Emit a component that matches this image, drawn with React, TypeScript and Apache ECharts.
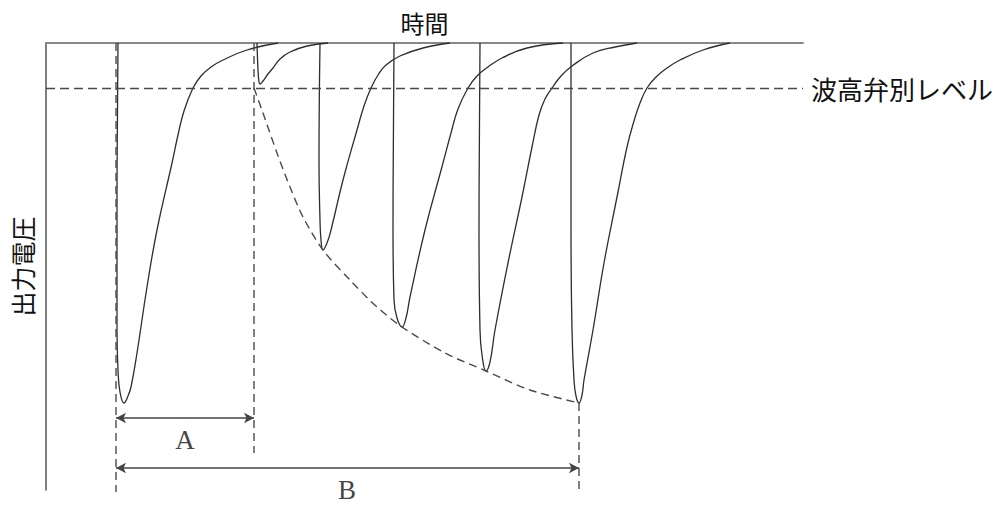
import React, { useEffect, useRef } from 'react';
import * as echarts from 'echarts';

// time (x) and output voltage (y, negative = downward pulse)
const pulse1: [number, number][] = [
  [72, 0], [71, -157], [71, -287], [72, -327], [74, -349], [78, -360], [82, -353], [85, -344],
  [91, -310], [101, -244], [111, -187], [126, -120], [132, -92], [138, -68], [147, -45],
  [155, -33], [165, -24], [177, -17], [201, -7], [232, 0],
];
const pulse2: [number, number][] = [
  [211, 0], [212, -27], [213, -39], [214, -41], [217, -38], [222, -31], [227, -25], [234, -16],
  [244, -9], [261, -3], [282, 0],
];
const pulse3: [number, number][] = [
  [274, 0], [273, -120], [274, -177], [275, -197], [277, -207], [281, -200], [285, -187],
  [297, -137], [311, -87], [318, -63], [325, -45], [332, -32], [340, -22], [354, -13],
  [377, -5], [404, 0],
];
const pulse4: [number, number][] = [
  [348, 0], [347, -187], [348, -257], [351, -275], [356, -284], [360, -275], [364, -254],
  [379, -187], [397, -120], [405, -90], [412, -66], [422, -45], [431, -33], [442, -24],
  [456, -15], [481, -5], [517, 0],
];
const pulse5: [number, number][] = [
  [434, 0], [433, -187], [434, -287], [436, -312], [440, -328], [444, -319], [449, -287],
  [462, -220], [476, -154], [486, -104], [493, -72], [499, -56], [506, -45], [515, -33],
  [526, -23], [547, -10], [569, -4], [591, 0],
];
const pulse6: [number, number][] = [
  [525, 0], [525, -187], [526, -287], [528, -337], [530, -353], [533, -360], [536, -352],
  [538, -337], [547, -287], [558, -220], [571, -154], [581, -104], [588, -78], [594, -60],
  [601, -45], [610, -34], [621, -25], [634, -17], [657, -7], [684, 0],
];
const envelope: [number, number][] = [
  [208, -45], [217, -70], [231, -110], [244, -144], [257, -174], [277, -207], [304, -237],
  [331, -264], [356, -284], [399, -310], [440, -328], [484, -347], [533, -360],
];
const discriminationLevel = -45;
const guideStart: [number, number][] = [[70, 0], [70, -449]];
const guideA: [number, number][] = [[208, 0], [208, -410]];
const guideB: [number, number][] = [[533, -360], [533, -449]];
const spanA: [number, number][] = [[70, -375], [208, -375]];
const spanB: [number, number][] = [[70, -425], [533, -425]];
const spanLabels = [
  { name: 'A', value: [139, -397] },
  { name: 'B', value: [301, -447] },
];

const JP = '"Noto Sans CJK JP", sans-serif';
const CURVE = '#2e2e2e';
const DASH = '#4a4a4a';

export default function App() {
  const chartRef = useRef<HTMLDivElement>(null);

  useEffect(() => {
    if (!chartRef.current) return;
    const chart = echarts.init(chartRef.current, undefined, { renderer: 'svg' });

    const pulse = (data: [number, number][]) => ({
      type: 'line',
      data,
      symbol: 'none',
      smooth: 0.45,
      clip: false,
      silent: true,
      lineStyle: { color: CURVE, width: 1.3 },
    });
    const dashed = (data: [number, number][], smooth = 0) => ({
      type: 'line',
      data,
      symbol: 'none',
      smooth,
      clip: false,
      silent: true,
      lineStyle: { color: DASH, width: 1.4, type: [8, 5] },
    });
    const span = (pts: [number, number][]) => [{ coord: pts[0] }, { coord: pts[1] }];

    const option: echarts.EChartsOption = {
      animation: false,
      backgroundColor: '#fff',
      grid: { left: 46, right: 197, top: 43, bottom: 19 },
      xAxis: {
        type: 'value',
        position: 'top',
        min: 0,
        max: 757,
        name: '時間',
        nameLocation: 'middle',
        nameGap: 9,
        nameTextStyle: { fontFamily: JP, fontSize: 24, color: '#111' },
        axisLine: { show: true, onZero: false, lineStyle: { color: '#888', width: 2 } },
        axisTick: { show: false },
        axisLabel: { show: false },
        splitLine: { show: false },
      },
      yAxis: {
        type: 'value',
        min: -447,
        max: 0,
        name: '出力電圧',
        nameLocation: 'middle',
        nameGap: 12,
        nameTextStyle: { fontFamily: JP, fontSize: 25, color: '#111' },
        axisLine: { show: true, onZero: false, lineStyle: { color: '#555', width: 1.5 } },
        axisTick: { show: false },
        axisLabel: { show: false },
        splitLine: { show: false },
      },
      series: [
        pulse(pulse1),
        pulse(pulse2),
        pulse(pulse3),
        pulse(pulse4),
        pulse(pulse5),
        pulse(pulse6),
        dashed(envelope, 0.3),
        dashed(guideStart),
        dashed(guideA),
        dashed(guideB),
        {
          type: 'line',
          data: [],
          silent: true,
          markLine: {
            silent: true,
            symbol: 'none',
            lineStyle: { color: DASH, width: 1.4, type: [9, 5] },
            label: {
              show: true,
              position: 'end',
              distance: 8,
              formatter: '波高弁別レベル',
              fontFamily: JP,
              fontSize: 26,
              color: '#111',
            },
            data: [{ yAxis: discriminationLevel }],
          },
        },
        {
          type: 'line',
          data: [],
          silent: true,
          markLine: {
            silent: true,
            symbol: ['arrow', 'arrow'],
            symbolSize: [8, 10],
            lineStyle: { color: '#444', width: 1.6, type: 'solid' },
            label: { show: false },
            data: [span(spanA), span(spanB)] as any,
          },
        },
        {
          type: 'scatter',
          data: spanLabels,
          symbolSize: 0,
          silent: true,
          clip: false,
          label: {
            show: true,
            position: 'inside',
            formatter: '{b}',
            fontFamily: '"Liberation Serif", serif',
            fontSize: 27,
            color: '#111',
          },
        },
      ] as any,
    };

    chart.setOption(option);
    return () => {
      chart.dispose();
    };
  }, []);

  return (
    <div
      ref={chartRef}
      style={{ position: 'fixed', left: 0, top: 0, width: '1000px', height: '509px' }}
    />
  );
}
